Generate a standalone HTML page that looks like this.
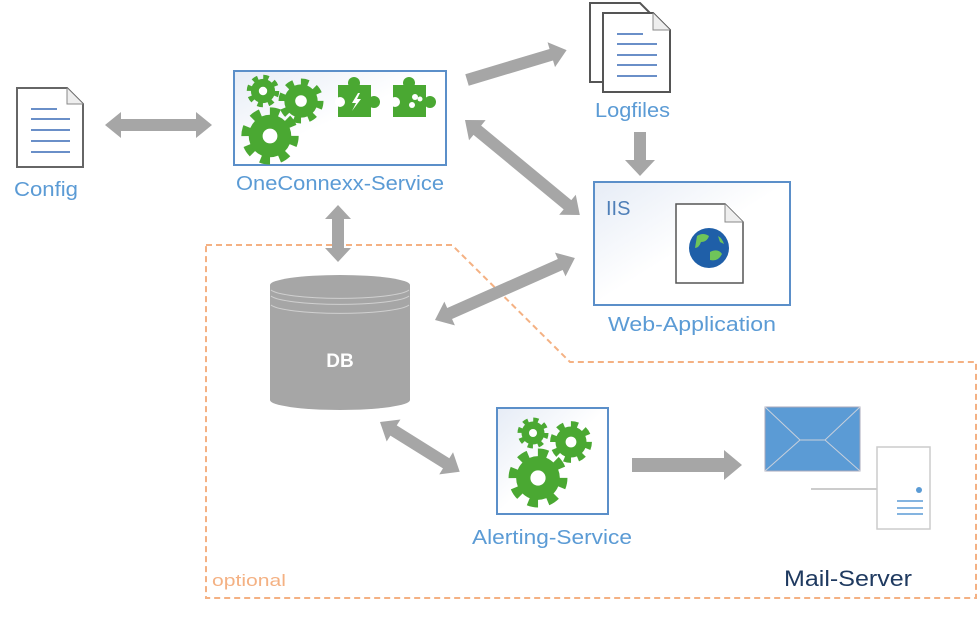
<!DOCTYPE html>
<html><head><meta charset="utf-8"><style>
html,body{margin:0;padding:0;background:#fff;}
svg{display:block;font-family:"Liberation Sans",sans-serif;}
.lbl{fill:#5b9bd5;font-size:20px;}
</style></head><body>
<svg width="979" height="623" viewBox="0 0 979 623" xmlns="http://www.w3.org/2000/svg">
<defs>
<linearGradient id="bg" x1="0" y1="0" x2="1" y2="1"><stop offset="0" stop-color="#e6ecf6"/><stop offset="0.5" stop-color="#fff"/></linearGradient>
<g id="gear">
<circle r="12" fill="none" stroke="#4aa832" stroke-width="7" stroke-dasharray="4.7 4.7"/>
<circle r="11.5" fill="#4aa832"/>
<circle r="4" fill="#fff"/>
</g>
</defs>

<path d="M206,245 H452 L570,362 H976 V598 H206 Z" fill="none" stroke="#f4b183" stroke-width="2" stroke-dasharray="6 4"/>
<text x="212" y="586" font-size="17" fill="#f4b183" textLength="74" lengthAdjust="spacingAndGlyphs">optional</text>

<g fill="#a6a6a6">
<polygon points="105,125 121,112 121,119 196,119 196,112 212,125 196,138 196,131 121,131 121,138"/>
<g transform="translate(467,80) rotate(-16.7)"><polygon points="0,-6 88,-6 88,-13 104,0 88,13 88,6 0,6"/></g>
<g transform="translate(465,120) rotate(39.6)"><polygon points="0,0 16,-13 16,-6 133,-6 133,-13 149,0 133,13 133,6 16,6 16,13"/></g>
<polygon points="634,132 646,132 646,160 655,160 640,176 625,160 634,160"/>
<polygon points="338,205 351,219 344,219 344,248 351,248 338,262 325,248 332,248 332,219 325,219"/>
<g transform="translate(435,320) rotate(-23.9)"><polygon points="0,0 16,-13 16,-6 137,-6 137,-13 153,0 137,13 137,6 16,6 16,13"/></g>
<g transform="translate(380,422) rotate(32)"><polygon points="0,0 16,-13 16,-6 78,-6 78,-13 94,0 78,13 78,6 16,6 16,13"/></g>
<polygon points="632,458 724,458 724,450 742,465 724,480 724,472 632,472"/>
</g>

<path d="M17,88 H67 L83,104 V167 H17 Z" fill="#fff" stroke="#666" stroke-width="2"/>
<path d="M67,88 V104 H83" fill="#eee" stroke="#888" stroke-width="1"/>
<g stroke="#6a8fc8" stroke-width="2"><line x1="31" y1="109" x2="57" y2="109"/><line x1="31" y1="119" x2="70" y2="119"/><line x1="31" y1="130" x2="70" y2="130"/><line x1="31" y1="141" x2="70" y2="141"/><line x1="31" y1="152" x2="70" y2="152"/></g>
<text class="lbl" x="14" y="196" textLength="64" lengthAdjust="spacingAndGlyphs">Config</text>

<rect x="234" y="71" width="212" height="94" fill="url(#bg)" stroke="#5b8fc9" stroke-width="2"/>
<use href="#gear" transform="translate(263,91) scale(1.05)"/>
<use href="#gear" transform="translate(301,101) scale(1.45)"/>
<use href="#gear" transform="translate(270,136) scale(1.85)"/>
<g fill="#4aa832">
<rect x="338" y="85" width="33" height="32"/><circle cx="354" cy="83" r="6"/><circle cx="374" cy="102" r="6"/>
<rect x="393" y="85" width="33" height="32"/><circle cx="409" cy="83" r="6"/><circle cx="430" cy="102" r="6"/>
</g>
<circle cx="340" cy="102" r="5" fill="#fff"/><circle cx="395" cy="102" r="5" fill="#fff"/>
<polygon points="358,93 352,103 356,103 352,111 361,99 357,99 360,93" fill="#fff"/>
<circle cx="415" cy="97" r="3" fill="#fff"/><circle cx="420" cy="99" r="2.5" fill="#fff"/><circle cx="412" cy="105" r="3" fill="#fff"/>
<text class="lbl" x="236" y="190" textLength="208" lengthAdjust="spacingAndGlyphs">OneConnexx-Service</text>

<path d="M590,3 H640 L651,14 V82 H590 Z" fill="#fff" stroke="#555" stroke-width="2"/>
<path d="M603,13 H653 L670,30 V92 H603 Z" fill="#fff" stroke="#555" stroke-width="2"/>
<path d="M653,13 V30 H670" fill="#eee" stroke="#888" stroke-width="1"/>
<g stroke="#6a8fc8" stroke-width="2"><line x1="617" y1="34" x2="643" y2="34"/><line x1="617" y1="44" x2="657" y2="44"/><line x1="617" y1="55" x2="657" y2="55"/><line x1="617" y1="65" x2="657" y2="65"/><line x1="617" y1="76" x2="657" y2="76"/></g>
<text class="lbl" x="595" y="117" textLength="75" lengthAdjust="spacingAndGlyphs">Logfiles</text>

<rect x="594" y="182" width="196" height="123" fill="url(#bg)" stroke="#5b8fc9" stroke-width="2"/>
<text x="606" y="215" font-size="20" fill="#4f7fb8">IIS</text>
<path d="M676,204 H725 L743,222 V283 H676 Z" fill="#fff" stroke="#555" stroke-width="1.5"/>
<path d="M725,204 V222 H743" fill="#eee" stroke="#888" stroke-width="1"/>
<circle cx="709" cy="248" r="20" fill="#1f5fa8"/>
<path d="M697,236 q6,-4 12,0 q-2,6 -8,6 q-2,6 -6,6 z M710,252 q8,-4 12,2 q-4,8 -12,6 z M718,236 q4,2 6,8 l-4,-2z" fill="#6fc45a"/>
<text class="lbl" x="608" y="331" textLength="168" lengthAdjust="spacingAndGlyphs">Web-Application</text>

<path d="M270,285 V400 A70,10 0 0 0 410,400 V285 Z" fill="#a6a6a6"/>
<ellipse cx="340" cy="285" rx="70" ry="10" fill="#a6a6a6"/>
<path d="M271,290 A70,10 0 0 0 409,290 M271,296 A70,10 0 0 0 409,296 M271,305 A70,10 0 0 0 409,305" fill="none" stroke="#d0d0d0" stroke-width="1"/>
<text x="340" y="367" text-anchor="middle" font-size="19" font-weight="bold" fill="#fff">DB</text>

<rect x="497" y="408" width="111" height="106" fill="url(#bg)" stroke="#5b8fc9" stroke-width="2"/>
<use href="#gear" transform="translate(533,433) scale(1)"/>
<use href="#gear" transform="translate(571,442) scale(1.35)"/>
<use href="#gear" transform="translate(538,478) scale(1.9)"/>
<text class="lbl" x="472" y="544" textLength="160" lengthAdjust="spacingAndGlyphs">Alerting-Service</text>

<line x1="811" y1="489" x2="878" y2="489" stroke="#ccc" stroke-width="2"/>
<rect x="765" y="407" width="95" height="64" fill="#5b9bd5" stroke="#aab" stroke-width="1"/>
<path d="M765,407 L800,440 H825 L860,407 M765,471 L800,440 M860,471 L825,440" fill="none" stroke="#c8d0dc" stroke-width="1"/>
<rect x="877" y="447" width="53" height="82" fill="#fff" stroke="#ccc" stroke-width="1.5"/>
<circle cx="919" cy="490" r="3" fill="#5b9bd5"/>
<g stroke="#5b9bd5" stroke-width="1.5"><line x1="897" y1="501" x2="923" y2="501"/><line x1="897" y1="508" x2="923" y2="508"/><line x1="897" y1="514" x2="923" y2="514"/></g>
<text x="784" y="586" font-size="22" fill="#1f3a60" textLength="128" lengthAdjust="spacingAndGlyphs">Mail-Server</text>
</svg>
</body></html>
